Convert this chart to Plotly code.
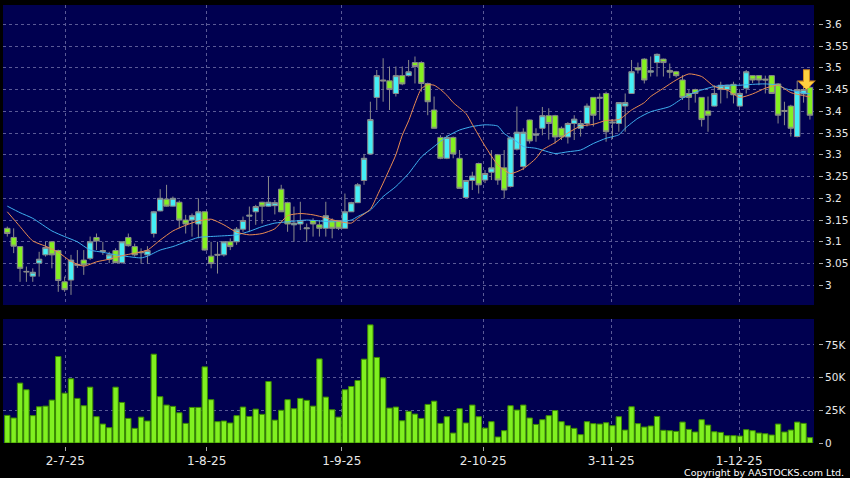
import plotly.graph_objects as go

# ---------------- data ----------------
opens = [3.131, 3.110, 3.089, 3.032, 3.021, 3.051, 3.070, 3.100, 3.080, 3.008,
         3.012, 3.046, 3.058, 3.062, 3.110, 3.080, 3.060, 3.080, 3.052, 3.110,
         3.089, 3.076, 3.070, 3.119, 3.171, 3.198, 3.182, 3.191, 3.150, 3.150,
         3.141, 3.169, 3.067, 3.069, 3.070, 3.100, 3.100, 3.129, 3.159, 3.169,
         3.191, 3.182, 3.183, 3.221, 3.190, 3.139, 3.141, 3.130, 3.149, 3.139,
         3.131, 3.149, 3.149, 3.131, 3.169, 3.190, 3.241, 3.302, 3.432, 3.472,
         3.470, 3.441, 3.482, 3.482, 3.512, 3.512, 3.464, 3.403, 3.340, 3.292,
         3.340, 3.292, 3.202, 3.241, 3.280, 3.242, 3.260, 3.300, 3.270, 3.227,
         3.313, 3.273, 3.380, 3.345, 3.361, 3.390, 3.390, 3.361, 3.341, 3.372,
         3.361, 3.372, 3.432, 3.430, 3.441, 3.373, 3.372, 3.412, 3.441, 3.500,
         3.520, 3.490, 3.512, 3.520, 3.494, 3.491, 3.472, 3.441, 3.450, 3.432,
         3.401, 3.412, 3.450, 3.450, 3.462, 3.412, 3.453, 3.482, 3.482, 3.474,
         3.482, 3.463, 3.402, 3.412, 3.342, 3.440, 3.455]
highs = [3.135, 3.131, 3.090, 3.043, 3.039, 3.077, 3.100, 3.101, 3.082, 3.020,
         3.070, 3.081, 3.081, 3.112, 3.119, 3.100, 3.077, 3.085, 3.100, 3.119,
         3.096, 3.085, 3.090, 3.171, 3.221, 3.231, 3.204, 3.195, 3.162, 3.165,
         3.200, 3.170, 3.100, 3.100, 3.101, 3.108, 3.134, 3.158, 3.181, 3.185,
         3.192, 3.250, 3.196, 3.231, 3.192, 3.181, 3.192, 3.142, 3.154, 3.150,
         3.192, 3.154, 3.150, 3.211, 3.192, 3.235, 3.302, 3.422, 3.495, 3.522,
         3.503, 3.503, 3.503, 3.518, 3.526, 3.515, 3.466, 3.434, 3.345, 3.345,
         3.342, 3.311, 3.241, 3.261, 3.282, 3.265, 3.311, 3.302, 3.311, 3.342,
         3.411, 3.361, 3.381, 3.361, 3.410, 3.407, 3.392, 3.365, 3.375, 3.391,
         3.380, 3.418, 3.432, 3.441, 3.445, 3.382, 3.420, 3.441, 3.518, 3.512,
         3.522, 3.526, 3.533, 3.521, 3.510, 3.493, 3.483, 3.449, 3.452, 3.432,
         3.434, 3.460, 3.468, 3.461, 3.468, 3.445, 3.495, 3.483, 3.483, 3.482,
         3.483, 3.465, 3.422, 3.415, 3.470, 3.470, 3.470]
lows = [3.112, 3.074, 3.008, 3.008, 3.008, 3.020, 3.066, 3.039, 2.985, 2.985,
        2.978, 3.040, 3.024, 3.058, 3.081, 3.070, 3.051, 3.051, 3.050, 3.089,
        3.066, 3.050, 3.050, 3.110, 3.170, 3.181, 3.181, 3.131, 3.119, 3.112,
        3.108, 3.080, 3.039, 3.027, 3.066, 3.081, 3.093, 3.123, 3.123, 3.139,
        3.142, 3.181, 3.163, 3.169, 3.123, 3.100, 3.127, 3.100, 3.112, 3.112,
        3.112, 3.108, 3.127, 3.131, 3.169, 3.189, 3.231, 3.300, 3.403, 3.422,
        3.403, 3.434, 3.460, 3.480, 3.464, 3.445, 3.391, 3.361, 3.290, 3.290,
        3.292, 3.223, 3.200, 3.219, 3.211, 3.235, 3.242, 3.231, 3.200, 3.225,
        3.310, 3.265, 3.326, 3.330, 3.345, 3.335, 3.326, 3.334, 3.326, 3.334,
        3.342, 3.365, 3.365, 3.380, 3.330, 3.336, 3.353, 3.353, 3.441, 3.487,
        3.464, 3.480, 3.480, 3.480, 3.476, 3.478, 3.426, 3.403, 3.420, 3.365,
        3.353, 3.411, 3.418, 3.430, 3.418, 3.410, 3.441, 3.465, 3.460, 3.441,
        3.440, 3.372, 3.368, 3.342, 3.340, 3.420, 3.381]
closes = [3.119, 3.090, 3.039, 3.031, 3.030, 3.060, 3.087, 3.070, 3.011, 2.990,
          3.058, 3.048, 3.047, 3.100, 3.102, 3.078, 3.070, 3.052, 3.100, 3.091,
          3.070, 3.075, 3.080, 3.169, 3.200, 3.182, 3.200, 3.150, 3.141, 3.160,
          3.169, 3.081, 3.050, 3.071, 3.100, 3.089, 3.129, 3.149, 3.161, 3.181,
          3.182, 3.191, 3.190, 3.169, 3.141, 3.143, 3.149, 3.132, 3.141, 3.131,
          3.160, 3.131, 3.131, 3.169, 3.190, 3.231, 3.292, 3.381, 3.482, 3.470,
          3.450, 3.482, 3.463, 3.491, 3.503, 3.464, 3.422, 3.361, 3.292, 3.340,
          3.302, 3.223, 3.241, 3.251, 3.231, 3.257, 3.270, 3.242, 3.219, 3.339,
          3.352, 3.352, 3.332, 3.348, 3.390, 3.372, 3.341, 3.341, 3.372, 3.382,
          3.372, 3.412, 3.391, 3.432, 3.353, 3.375, 3.420, 3.420, 3.491, 3.495,
          3.472, 3.493, 3.531, 3.512, 3.490, 3.482, 3.432, 3.432, 3.441, 3.381,
          3.391, 3.441, 3.460, 3.460, 3.438, 3.441, 3.491, 3.472, 3.472, 3.472,
          3.441, 3.391, 3.400, 3.361, 3.450, 3.450, 3.391]
volumes_k = [21.1, 19.1, 45.8, 40.7, 20.9, 27.7, 28.2, 32.8, 66.1, 38.1,
             49.1, 34.1, 28.5, 42.7, 20.1, 14.5, 11.7, 42.7, 31.0, 18.8,
             11.2, 19.8, 16.8, 67.9, 35.4, 29.0, 28.0, 23.1, 15.0, 27.2,
             27.2, 58.2, 33.1, 16.3, 16.8, 15.3, 20.9, 27.5, 20.3, 25.9,
             21.9, 47.0, 17.5, 25.0, 33.1, 26.2, 34.1, 32.6, 28.2, 64.3,
             35.1, 25.4, 19.8, 40.7, 43.2, 47.8, 64.1, 90.3, 65.4, 49.8,
             26.7, 27.5, 17.0, 24.2, 22.1, 18.8, 29.5, 32.0, 15.0, 20.1,
             7.6, 26.2, 15.3, 29.0, 20.1, 11.4, 16.3, 4.6, 9.4, 28.5,
             25.2, 29.0, 19.1, 14.2, 17.8, 20.9, 24.8, 16.3, 13.2, 11.2,
             6.4, 16.3, 14.8, 14.5, 15.5, 13.2, 20.1, 9.9, 27.7, 14.8,
             12.2, 13.0, 20.3, 9.7, 9.4, 8.9, 16.0, 10.4, 8.4, 17.8,
             13.7, 8.6, 8.1, 5.6, 5.6, 5.3, 10.2, 9.4, 7.6, 7.1,
             6.1, 14.5, 8.4, 9.9, 16.0, 15.0, 4.1]

# moving-average lines (bar index, price)
ma_fast_idx = [0, 2, 4, 6, 8, 10, 12, 14, 16, 18, 20, 22, 24, 26, 28, 30, 32, 34, 36, 38,
               40, 42, 44, 46, 48, 50, 52, 54, 55, 57, 58, 59, 60, 61, 62, 63, 64, 65, 66, 67,
               68, 69, 70, 72, 73, 75, 77, 79, 81, 83, 84, 86, 88, 90, 92, 94, 96, 98, 100, 101,
               103, 105, 107, 109, 111, 113, 115, 117, 119, 121, 123, 125, 126]
ma_fast_val = [3.169, 3.135, 3.102, 3.090, 3.076, 3.055, 3.044, 3.054, 3.060, 3.068,
               3.074, 3.081, 3.104, 3.125, 3.138, 3.148, 3.152, 3.139, 3.122, 3.116,
               3.119, 3.130, 3.160, 3.165, 3.162, 3.155, 3.147, 3.143, 3.154, 3.175,
               3.204, 3.235, 3.267, 3.300, 3.345, 3.378, 3.418, 3.452, 3.461, 3.460,
               3.450, 3.437, 3.420, 3.395, 3.370, 3.320, 3.277, 3.257, 3.268, 3.292,
               3.311, 3.328, 3.350, 3.366, 3.370, 3.379, 3.381, 3.403, 3.420, 3.434,
               3.453, 3.472, 3.486, 3.480, 3.457, 3.449, 3.432, 3.440, 3.453, 3.460,
               3.443, 3.436, 3.433]
ma_slow_idx = [0, 2, 4, 7, 9, 11, 13, 15, 17, 19, 21, 22, 24, 26, 28, 30, 33, 36, 38, 40,
               42, 44, 47, 51, 54, 55, 57, 59, 61, 63, 65, 67, 69, 71, 73, 75, 77, 78, 80, 81,
               83, 86, 88, 90, 92, 94, 96, 97, 99, 101, 104, 106, 107, 109, 111, 113, 115, 117,
               119, 121, 122, 124, 126]
ma_slow_val = [3.182, 3.167, 3.154, 3.125, 3.112, 3.100, 3.081, 3.076, 3.070, 3.066,
               3.063, 3.067, 3.081, 3.089, 3.100, 3.110, 3.113, 3.116, 3.124, 3.135,
               3.143, 3.146, 3.150, 3.146, 3.150, 3.158, 3.173, 3.204, 3.227, 3.257,
               3.295, 3.319, 3.342, 3.357, 3.365, 3.369, 3.366, 3.349, 3.330, 3.319,
               3.315, 3.303, 3.307, 3.311, 3.326, 3.338, 3.346, 3.361, 3.384, 3.399,
               3.411, 3.430, 3.438, 3.449, 3.457, 3.460, 3.460, 3.462, 3.463, 3.460,
               3.453, 3.445, 3.440]

date_tick_labels = ["2-7-25", "1-8-25", "1-9-25", "2-10-25", "3-11-25", "1-12-25"]
date_tick_pos = [9.1, 31.3, 52.5, 74.7, 94.8, 114.9]
price_ticks = [3.0, 3.05, 3.1, 3.15, 3.2, 3.25, 3.3, 3.35, 3.4, 3.45, 3.5, 3.55, 3.6]
price_tick_labels = ["3", "3.05", "3.1", "3.15", "3.2", "3.25", "3.3", "3.35",
                     "3.4", "3.45", "3.5", "3.55", "3.6"]
vol_ticks = [0, 25000, 50000, 75000]
vol_tick_labels = ["0", "25K", "50K", "75K"]
signal_x, signal_y_tip, signal_y_tail = 125.46, 3.449, 3.500

# ---------------- styling ----------------
PLOT_BG = "#000050"
GRID = "#5a5a96"
TXT = "#e8e8e8"
UP = "#44eef6"
DOWN = "#84f020"
WICK = "#8a8a8a"
FONT = "DejaVu Sans"

x_idx = list(range(len(closes)))
volumes = [v * 1000 for v in volumes_k]

fig = go.Figure()
fig.add_trace(go.Candlestick(
    x=x_idx, open=opens, high=highs, low=lows, close=closes,
    increasing=dict(fillcolor=UP, line=dict(color=WICK, width=1)),
    decreasing=dict(fillcolor=DOWN, line=dict(color=WICK, width=1)),
    whiskerwidth=0, xaxis="x", yaxis="y", showlegend=False,
))
fig.add_trace(go.Scatter(
    x=ma_slow_idx, y=ma_slow_val, mode="lines",
    line=dict(color="#3fb0f0", width=1, shape="spline", smoothing=0.6),
    xaxis="x", yaxis="y", showlegend=False, hoverinfo="skip",
))
fig.add_trace(go.Scatter(
    x=ma_fast_idx, y=ma_fast_val, mode="lines",
    line=dict(color="#ec8c50", width=1, shape="spline", smoothing=0.6),
    xaxis="x", yaxis="y", showlegend=False, hoverinfo="skip",
))
fig.add_trace(go.Bar(
    x=x_idx, y=volumes,
    marker=dict(color="#80f020", line=dict(color="#3c8c00", width=1)),
    xaxis="x2", yaxis="y2", showlegend=False,
))

xr = [-0.675, 126.64]
xdom = [0, 0.99509]
grid_kw = dict(showgrid=True, gridcolor=GRID, griddash="3px,3px", gridwidth=1,
               zeroline=False, showline=False, automargin=False)
fig.update_layout(
    width=850, height=478,
    margin=dict(l=3, r=32, t=5, b=32, autoexpand=False),
    paper_bgcolor="#000000",
    plot_bgcolor=PLOT_BG,
    boxgap=0.16,
    boxgroupgap=0,
    bargap=0.16,
    font=dict(family=FONT, color=TXT, size=11),
    showlegend=False,
    xaxis=dict(
        domain=xdom, anchor="y", range=xr, rangeslider=dict(visible=False),
        tickvals=date_tick_pos, showticklabels=False, ticks="", **grid_kw,
    ),
    yaxis=dict(
        domain=[0.3197, 1.0], anchor="free", position=1.0, side="right",
        range=[2.9547, 3.6444], tickvals=price_ticks, ticktext=price_tick_labels,
        ticks="outside", ticklen=4, tickcolor="#aaaaaa",
        tickfont=dict(family=FONT, size=10.5, color=TXT), **grid_kw,
    ),
    xaxis2=dict(
        domain=xdom, anchor="free", position=0.0, range=xr, matches="x",
        tickvals=date_tick_pos, ticktext=date_tick_labels,
        ticks="outside", ticklen=4, tickcolor="#aaaaaa",
        tickfont=dict(family=FONT, size=12, color=TXT), **grid_kw,
    ),
    yaxis2=dict(
        domain=[0.0068, 0.288], anchor="free", position=1.0, side="right",
        range=[0, 94800], tickvals=vol_ticks, ticktext=vol_tick_labels,
        ticks="outside", ticklen=4, tickcolor="#aaaaaa",
        tickfont=dict(family=FONT, size=10.5, color=TXT), **grid_kw,
    ),
    annotations=[
        dict(x=signal_x, y=signal_y_tip, ax=signal_x, ay=signal_y_tail,
             xref="x", yref="y", axref="x", ayref="y", text="",
             showarrow=True, arrowhead=1, arrowwidth=7, arrowsize=0.45,
             arrowcolor="#d08a20", standoff=0),
        dict(x=signal_x, y=signal_y_tip + 0.002, ax=signal_x, ay=signal_y_tail - 0.002,
             xref="x", yref="y", axref="x", ayref="y", text="",
             showarrow=True, arrowhead=1, arrowwidth=5, arrowsize=0.5,
             arrowcolor="#ffd040", standoff=0),
        dict(x=1.0, y=0.0, xref="paper", yref="paper", xanchor="right", yanchor="top",
             yshift=-19, xshift=28, text="Copyright by AASTOCKS.com Ltd.", showarrow=False,
             font=dict(family=FONT, size=9.5, color="#ffffff")),
    ],
)

fig.write_html(
    "out.html",
    config={"displayModeBar": False},
    post_script="document.body.style.margin='0';document.body.style.background='#000';",
)
